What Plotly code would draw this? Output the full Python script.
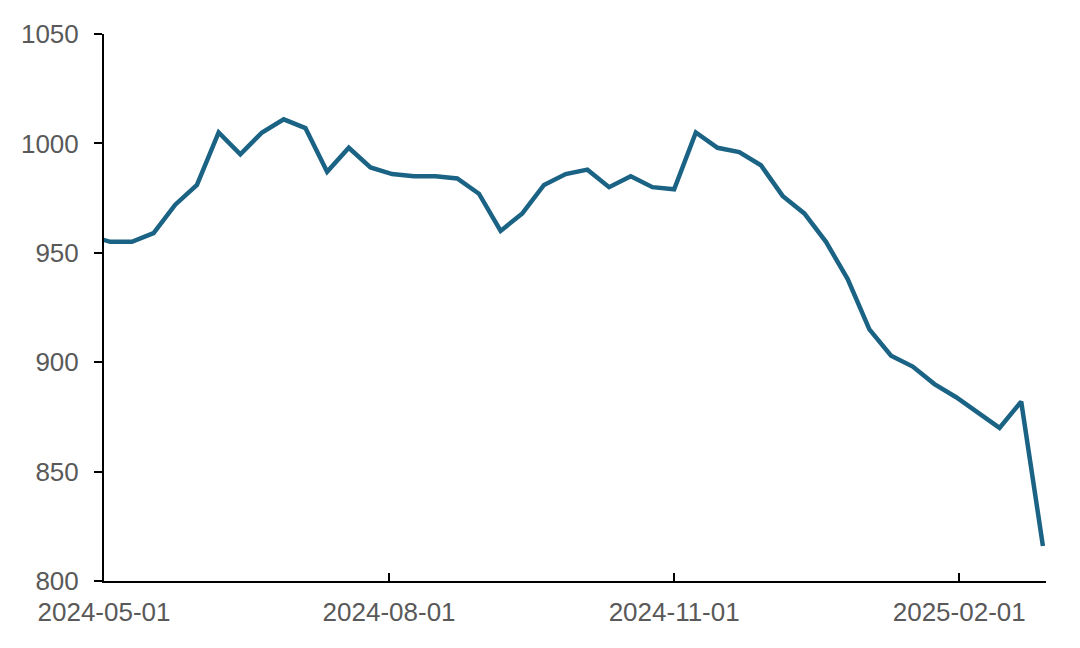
import plotly.graph_objects as go

dates = [
    "2024-04-26", "2024-05-03", "2024-05-10", "2024-05-17", "2024-05-24", "2024-05-31",
    "2024-06-07", "2024-06-14", "2024-06-21", "2024-06-28", "2024-07-05", "2024-07-12",
    "2024-07-19", "2024-07-26", "2024-08-02", "2024-08-09", "2024-08-16", "2024-08-23",
    "2024-08-30", "2024-09-06", "2024-09-13", "2024-09-20", "2024-09-27", "2024-10-04",
    "2024-10-11", "2024-10-18", "2024-10-25", "2024-11-01", "2024-11-08", "2024-11-15",
    "2024-11-22", "2024-11-29", "2024-12-06", "2024-12-13", "2024-12-20", "2024-12-27",
    "2025-01-03", "2025-01-10", "2025-01-17", "2025-01-24", "2025-01-31", "2025-02-07",
    "2025-02-14", "2025-02-21", "2025-02-28",
]
values = [
    958, 955, 955, 959, 972, 981,
    1005, 995, 1005, 1011, 1007, 987,
    998, 989, 986, 985, 985, 984,
    977, 960, 968, 981, 986, 988,
    980, 985, 980, 979, 1005, 998,
    996, 990, 976, 968, 955, 938,
    915, 903, 898, 890, 884, 877,
    870, 882, 816,
]
x_ticks = ["2024-05-01", "2024-08-01", "2024-11-01", "2025-02-01"]
x_range = ["2024-05-01", "2025-03-01"]
y_ticks = [800, 850, 900, 950, 1000, 1050]

fig = go.Figure()
fig.add_trace(go.Scatter(
    x=dates, y=values, mode="lines",
    line=dict(color="#1B6384", width=4.5),
    hoverinfo="x+y", showlegend=False,
))

font = dict(family="Liberation Sans, Arial, sans-serif", size=26, color="#595959")
fig.update_layout(
    width=1080, height=648,
    margin=dict(l=96, r=42, t=26, b=75),
    paper_bgcolor="white", plot_bgcolor="white",
    font=font,
)
fig.update_xaxes(
    type="date", range=x_range, tickvals=x_ticks, tickformat="%Y-%m-%d",
    showgrid=False, zeroline=False, automargin=False,
    showline=True, linecolor="black", linewidth=2,
    ticks="inside", ticklen=8, tickwidth=1.5, tickcolor="black",
    ticklabelstandoff=7, tickfont=font,
)
fig.update_yaxes(
    range=[800, 1050], tickvals=y_ticks,
    showgrid=False, zeroline=False, automargin=False,
    showline=True, linecolor="black", linewidth=2,
    ticks="outside", ticklen=8, tickwidth=1.5, tickcolor="black",
    ticklabelstandoff=10, tickfont=font,
)
fig.write_html("out.html")
